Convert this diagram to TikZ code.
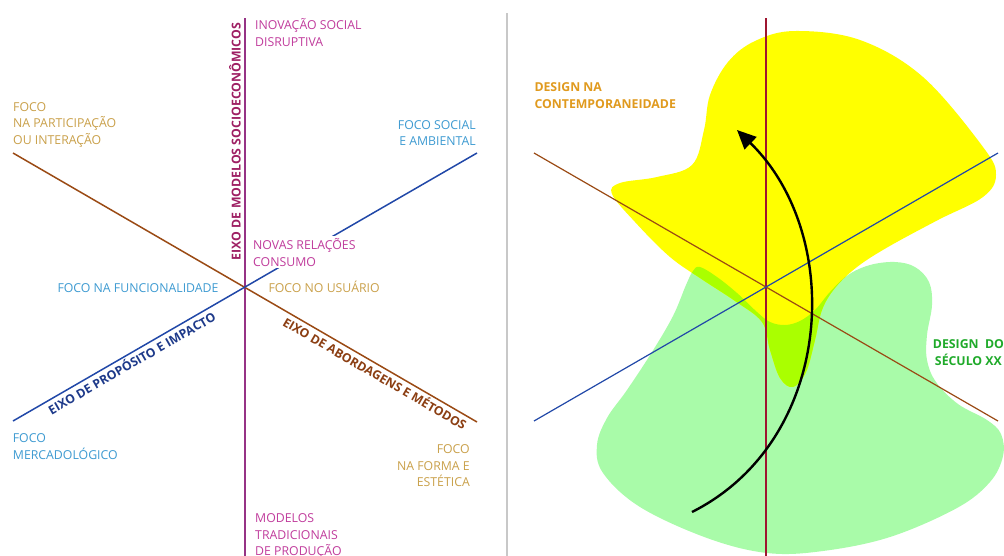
\documentclass[tikz,border=0pt]{standalone}
\usepackage{fontspec}
\setmainfont{Open Sans}
\usetikzlibrary{arrows.meta}
\definecolor{magtxt}{HTML}{C03C9C}
\definecolor{tantxt}{HTML}{C9A04A}
\definecolor{bluetxt}{HTML}{3D9AD1}
\definecolor{axpurple}{HTML}{963385}
\definecolor{eixomag}{HTML}{9E1F63}
\definecolor{eixoblue}{HTML}{1E3A8A}
\definecolor{eixobrown}{HTML}{8B3E12}
\definecolor{brownline}{HTML}{9A4A14}
\definecolor{blueline}{HTML}{2148A8}
\definecolor{redline}{HTML}{9E1530}
\definecolor{dorange}{HTML}{E09A1E}
\definecolor{dgreen}{HTML}{1FAA2A}
\definecolor{yfill}{HTML}{FFFF00}
\definecolor{gfill}{HTML}{A9FBA9}
\definecolor{lfill}{HTML}{AAFF00}
\definecolor{sepgray}{HTML}{C8C8C8}
\newcommand\lblfont{\fontsize{12.3}{16.5}\selectfont}
\newcommand\eixofont{\fontsize{12.3}{15}\selectfont\bfseries}
\newcommand\dsgfont{\fontsize{12.3}{16.5}\selectfont\bfseries}
\newcommand\yellowpath{plot[smooth cycle, tension=0.6] coordinates {(795,31) (860,40) (923,77) (983,147) (996,175) (983,197) (938,220) (888,247) (857,267) (835,288) (822,310) (815,340) (806,372) (793,387) (780,378) (770,350) (762,322) (735,301) (703,280) (670,257) (635,222) (612,194) (620,183) (657,177) (692,165) (704,130) (710,95) (728,62) (755,41)}}
\newcommand\greenpath{plot[smooth cycle, tension=0.6] coordinates {(700,267) (717,277) (737,293) (757,312) (770,322) (785,325) (800,321) (815,310) (830,292) (848,275) (870,265) (895,262) (915,267) (929,282) (932,305) (927,335) (927,360) (936,382) (958,404) (987,420) (1001,434) (1003,456) (990,482) (957,508) (890,537) (823,551) (767,553) (707,538) (640,507) (603,473) (597,445) (607,418) (627,390) (652,352) (673,316) (686,285) (693,271)}}
\begin{document}
\begin{tikzpicture}[x=1pt,y=-1pt,
  lbl/.style={inner sep=0pt, font=\lblfont, align=left, anchor=north west},
  lblr/.style={inner sep=0pt, font=\lblfont, align=right, anchor=north east},
  lbl1/.style={inner sep=0pt, font=\lblfont},
  eixo/.style={inner sep=2pt, font=\eixofont},
  axis/.style={line width=1.5pt},
  raxis/.style={line width=1.2pt},
  dsg/.style={inner sep=0pt, font=\dsgfont, anchor=north west}]
\useasboundingbox (0,0) rectangle (1004,555);
\clip (0,0) rectangle (1004,555);
% ---------- left panel ----------
\coordinate (lvT) at (245,18);
\coordinate (lvB) at (245,556);
\coordinate (lbrA) at (13,153);
\coordinate (lbrB) at (477,422);
\coordinate (lblA) at (13,421);
\coordinate (lblB) at (477,153);
\draw[axis, axpurple] (lvT) -- (lvB);
\draw[axis, brownline] (lbrA) -- node[pos=0.79, sloped, below, eixo, text=eixobrown] {EIXO DE ABORDAGENS E MÉTODOS} (lbrB);
\draw[axis, blueline] (lblA) -- node[pos=0.246, sloped, below, eixo, text=eixoblue] {EIXO DE PROPÓSITO E IMPACTO} (lblB);
\node[eixo, inner sep=0pt, rotate=90, anchor=base, text=eixomag] (eixoM) at (240.5,141.5) {EIXO DE MODELOS SOCIOECONÔMICOS};
\node[lbl, text=magtxt] (inov) at (255,18) {\strut INOVAÇÃO SOCIAL\\DISRUPTIVA};
\node[lbl, text=tantxt] (part) at (13,99.5) {\strut FOCO\\NA PARTICIPAÇÃO\\OU INTERAÇÃO};
\node[lblr, text=bluetxt] (soc) at (476,117.5) {\strut FOCO SOCIAL\\E AMBIENTAL};
\node[lbl, text=magtxt, fill=white, inner sep=2pt] (novas) at (251,236) {\strut NOVAS RELAÇÕES\\CONSUMO};
\node[lbl1, text=bluetxt, anchor=base east] (func) at (218.7,292.7) {FOCO NA FUNCIONALIDADE};
\node[lbl1, text=tantxt, anchor=base west] (usu) at (268.3,292.7) {FOCO NO USUÁRIO};
\node[lbl, text=bluetxt] (merc) at (12.7,431.2) {\strut FOCO\\MERCADOLÓGICO};
\node[lblr, text=tantxt] (forma) at (470,441.8) {\strut FOCO\\NA FORMA E\\ESTÉTICA};
\node[lbl, text=magtxt] (trad) at (255,510.8) {\strut MODELOS\\TRADICIONAIS\\DE PRODUÇÃO};
% ---------- separator ----------
\coordinate (sepT) at (507,13);
\coordinate (sepB) at (507,556);
\draw[line width=1.4pt, sepgray] (sepT) -- (sepB);
% ---------- right panel ----------
\fill[gfill] \greenpath;
\fill[yfill] \yellowpath;
\begin{scope}
  \clip \greenpath;
  \fill[lfill] \yellowpath;
\end{scope}
\coordinate (rvT) at (766,18);
\coordinate (rvB) at (766,556);
\coordinate (rbrA) at (534,153);
\coordinate (rbrB) at (998,421);
\coordinate (rblA) at (534,421);
\coordinate (rblB) at (998,153);
\draw[raxis, redline] (rvT) -- (rvB);
\draw[raxis, brownline] (rbrA) -- (rbrB);
\draw[raxis, blueline] (rblA) -- (rblB);
\coordinate (arrS) at (692,512);
\coordinate (arrE) at (737,130);
\draw[line width=2.4pt, black, -{Triangle[length=19pt,width=17pt]}] (arrS) .. controls (835,440) and (845,235) .. (arrE);
\node[dsg, text=dorange, align=left] (contemp) at (534.3,80.2) {\strut DESIGN NA\\CONTEMPORANEIDADE};
\node[dsg, text=dgreen, align=center] (sec) at (932.7,337) {\strut DESIGN~~DO\\SÉCULO XX};
\end{tikzpicture}
\end{document}
